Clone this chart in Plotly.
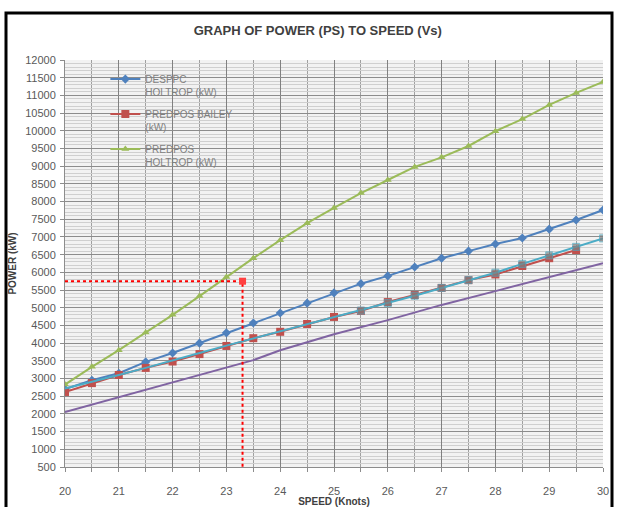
import plotly.graph_objects as go

speed = [20, 20.5, 21, 21.5, 22, 22.5, 23, 23.5, 24, 24.5, 25, 25.5, 26, 26.5, 27, 27.5, 28, 28.5, 29, 29.5, 30]

despcc_holtrop = [2700, 2950, 3150, 3470, 3720, 4000, 4290, 4570, 4850, 5130, 5420, 5680, 5900, 6150, 6400, 6600, 6800, 6970, 7220, 7480, 7760]
predpos_bailey = [2620, 2870, 3100, 3300, 3480, 3690, 3920, 4140, 4320, 4540, 4740, 4910, 5160, 5360, 5560, 5780, 5940, 6180, 6400, 6630]
predpos_holtrop = [2830, 3330, 3800, 4300, 4800, 5330, 5870, 6400, 6910, 7390, 7820, 8240, 8610, 8980, 9250, 9570, 9990, 10330, 10730, 11070, 11380]
series4 = [2720, 2900, 3100, 3300, 3500, 3720, 3930, 4130, 4330, 4530, 4720, 4920, 5130, 5340, 5560, 5780, 5990, 6240, 6480, 6720, 6960]
series5_speed = [20, 21, 22, 23, 23.5, 24, 25, 26, 27, 28, 29, 30]
series5 = [2050, 2470, 2890, 3310, 3520, 3800, 4250, 4650, 5080, 5470, 5870, 6260]

read_speed = 23.3
read_power = 5750

x_ticks = list(range(20, 31))
y_ticks = list(range(500, 12001, 500))

fig = go.Figure()

fig.add_trace(go.Scatter(x=speed, y=despcc_holtrop, name="DESPPC<br>HOLTROP (kW)", legendgroup="a",
                         mode="lines+markers", line=dict(color="#4f81bd", width=2),
                         marker=dict(symbol="diamond", size=7, color="#4f81bd")))
fig.add_trace(go.Scatter(x=speed[:len(predpos_bailey)], y=predpos_bailey, name="PREDPOS BAILEY<br>(kW)",
                         legendgroup="b",
                         mode="lines+markers", line=dict(color="#c0504d", width=2),
                         marker=dict(symbol="square", size=8, color="#c0504d")))
fig.add_trace(go.Scatter(x=speed, y=predpos_holtrop, name="PREDPOS<br>HOLTROP (kW)", legendgroup="c",
                         mode="lines+markers", line=dict(color="#9bbb59", width=2),
                         marker=dict(symbol="triangle-up", size=7, color="#9bbb59")))
fig.add_trace(go.Scatter(x=speed, y=series4, name="s4", showlegend=False,
                         mode="lines+markers", line=dict(color="#4bacc6", width=2),
                         marker=dict(symbol="square", color="#7f7f7f",
                                     size=[0] * 11 + [7] * 10)))
fig.add_trace(go.Scatter(x=series5_speed, y=series5, name="s5", showlegend=False,
                         mode="lines", line=dict(color="#8064a2", width=2)))
fig.add_trace(go.Scatter(x=[20, read_speed, read_speed], y=[read_power, read_power, 500],
                         showlegend=False, mode="lines", line=dict(color="#ff0000", width=2, dash="dot")))
fig.add_trace(go.Scatter(x=[read_speed], y=[read_power], showlegend=False, mode="markers",
                         marker=dict(symbol="square", size=7, color="#ff4040")))

fig.update_layout(
    width=617, height=507,
    margin=dict(l=65, r=14, t=60, b=40),
    paper_bgcolor="white",
    plot_bgcolor="#f2f2f2",
    font=dict(family="Liberation Sans, Arial, sans-serif", color="#595959", size=10),
    title=dict(text="<b>GRAPH OF POWER (PS) TO SPEED (Vs)</b>", x=0.515, xanchor="center",
               y=1 - 30 / 507, yanchor="middle",
               font=dict(size=13, color="#404040")),
    legend=dict(x=0.075, y=0.985, xanchor="left", yanchor="top", bgcolor="rgba(0,0,0,0)",
                valign="top",
                font=dict(size=10, color="#7f7f7f"), tracegroupgap=6, itemwidth=30),
    xaxis=dict(range=[20, 30], tickvals=x_ticks, showgrid=True, gridcolor="#808080", gridwidth=1,
               minor=dict(dtick=0.5, showgrid=True, gridcolor="#a0a0a0", gridwidth=1,
                          ticks="outside", ticklen=4, tickcolor="#8c8c8c"),
               zeroline=False, showline=True, linecolor="#8c8c8c", ticks="outside",
               ticklen=4, tickcolor="#8c8c8c", ticklabelstandoff=10, automargin=False,
               title=dict(text="<b>SPEED (Knots)</b>", standoff=2, font=dict(size=10, color="#404040")),
               tickfont=dict(size=11, color="#595959")),
    yaxis=dict(range=[500, 12000], tickvals=y_ticks, tickformat="d", showgrid=True,
               gridcolor="#8c8c8c", gridwidth=1,
               minor=dict(dtick=100, showgrid=True, gridcolor="#cfcfcf", gridwidth=1),
               zeroline=False, showline=True, linecolor="#8c8c8c", ticks="outside",
               ticklen=4, tickcolor="#8c8c8c", ticklabelstandoff=2, automargin=False,
               title=dict(text="<b>POWER (kW)</b>", standoff=6, font=dict(size=10, color="#404040")),
               tickfont=dict(size=11, color="#595959")),
)

# outer chart frame
fig.add_shape(type="rect", xref="paper", yref="paper",
              x0=(6 - 65) / 538, x1=(612 - 65) / 538, y0=(467 - 520) / 407, y1=(467 - 13) / 407,
              line=dict(color="black", width=3), fillcolor="rgba(0,0,0,0)", layer="below")

fig.write_html("out.html", config={"displayModeBar": False},
               post_script="document.body.style.margin='0';")
